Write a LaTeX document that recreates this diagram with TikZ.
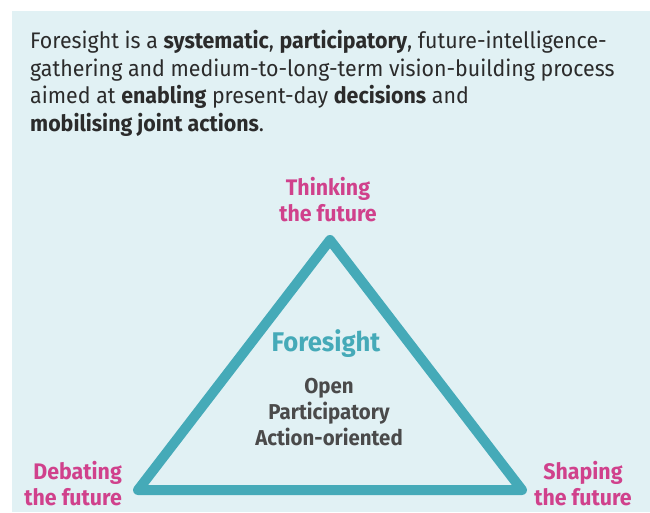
\documentclass[tikz,border=0pt]{standalone}
\usepackage{fontspec}
\setmainfont{Fira Sans}[FakeStretch=0.95]
\definecolor{bgc}{HTML}{E1F1F4}
\definecolor{teal}{HTML}{45AAB8}
\definecolor{mag}{HTML}{D0418C}
\definecolor{body}{HTML}{2B2B2B}
\definecolor{grayt}{HTML}{4A4A4A}
\tikzset{
  lbl/.style={text=mag, font=\bfseries\fontsize{22.5}{26}\selectfont, inner sep=0pt},
  tri/.style={draw=teal, line width=10pt, line join=round},
}
\begin{document}
\begin{tikzpicture}[x=1pt,y=-1pt]
\useasboundingbox (0,0) rectangle (650,512);
\fill[white] (0,0) rectangle (650,512);
\fill[bgc] (12,11) rectangle (650,512);
\node[anchor=north west, align=left, inner sep=0pt, text=body,
  font=\fontsize{22.5}{27.7}\selectfont] (para) at (30,30)
  {Foresight is a \textbf{systematic}, \textbf{participatory}, future-intelligence-\\
   gathering and medium-to-long-term vision-building process\\
   aimed at \textbf{enabling} present-day \textbf{decisions} and\\
   \textbf{mobilising joint actions}.};
\coordinate (A) at (330,240);
\coordinate (B) at (138,490);
\coordinate (C) at (522,490);
\draw[tri] (A) -- (B) -- (C) -- cycle;
\node[lbl, align=center] (think) at (328,200) {Thinking\\the future};
\node[lbl, align=right, anchor=east] (debate) at (122,484) {Debating\\the future};
\node[lbl, align=center] (shape) at (583,484) {Shaping\\the future};
\node[text=teal, font=\bfseries\fontsize{27}{30}\selectfont, inner sep=0pt] (fs) at (326,344) {Foresight};
\node[text=grayt, align=center, inner sep=0pt, font=\bfseries\fontsize{21.5}{26}\selectfont] (props) at (329,412) {Open\\Participatory\\Action-oriented};
\end{tikzpicture}
\end{document}
